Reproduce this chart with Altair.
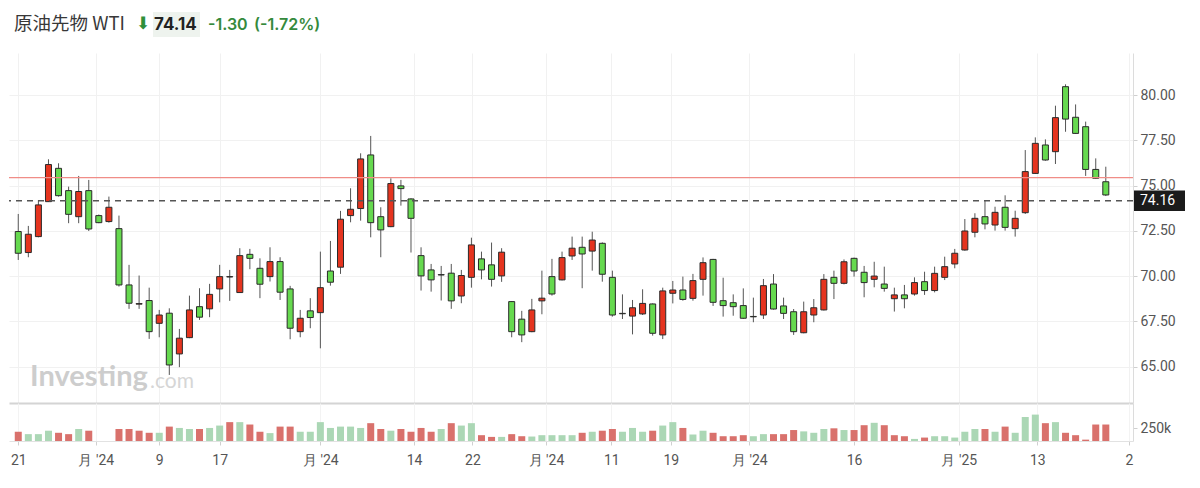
import json
import altair as alt
import pandas as pd

# ---------------- data ----------------
opens = [72.46, 71.30, 72.18, 74.11, 75.95, 74.72, 73.28, 74.72, 73.34, 73.01,
         72.62, 69.51, 68.45, 68.65, 67.39, 67.95, 65.70, 66.60, 68.31, 68.19,
         69.29, 69.95, 69.09, 71.20, 70.43, 69.97, 70.80, 69.29, 66.93, 68.08,
         67.98, 70.28, 70.49, 73.34, 73.73, 76.69, 73.28, 72.73, 74.98, 74.26,
         71.13, 70.34, 70.08, 70.16, 68.90, 69.93, 70.95, 70.62, 70.01, 68.59,
         67.62, 66.93, 68.63, 69.97, 69.79, 71.11, 71.59, 71.38, 71.81, 69.93,
         67.94, 67.79, 67.91, 68.46, 66.75, 69.05, 69.23, 68.77, 69.82, 70.92,
         68.64, 68.53, 68.37, 67.77, 67.85, 69.56, 68.35, 68.03, 66.87, 67.85,
         68.13, 69.93, 69.60, 70.98, 70.21, 69.82, 69.56, 68.75, 68.96, 69.01,
         69.69, 69.20, 69.93, 70.67, 71.44, 72.42, 73.28, 72.82, 73.80, 72.62,
         73.50, 75.67, 77.24, 76.87, 80.46, 78.77, 78.25, 75.89, 75.21]
highs = [73.43, 72.77, 74.20, 76.45, 76.23, 74.94, 75.53, 75.31, 73.40, 74.39,
         73.34, 70.62, 70.03, 69.36, 68.13, 68.22, 67.08, 68.92, 69.33, 69.57,
         70.62, 70.34, 71.54, 71.50, 70.98, 71.59, 71.04, 69.46, 68.13, 68.78,
         71.35, 71.94, 73.60, 74.85, 76.78, 77.74, 73.80, 75.40, 75.31, 74.30,
         71.59, 70.67, 70.56, 70.67, 70.34, 72.12, 71.35, 71.85, 71.54, 68.62,
         68.08, 68.74, 70.30, 70.95, 71.35, 72.18, 72.18, 72.45, 71.86, 70.30,
         68.99, 68.68, 69.27, 68.49, 69.36, 69.73, 69.97, 70.12, 71.03, 70.95,
         69.91, 68.99, 69.32, 68.81, 69.84, 70.11, 68.81, 68.18, 68.59, 68.73,
         70.11, 70.30, 70.92, 71.02, 70.56, 70.79, 70.52, 69.36, 69.51, 69.93,
         70.24, 70.52, 71.07, 71.50, 73.15, 73.47, 74.20, 73.83, 74.46, 73.61,
         76.96, 77.66, 77.55, 79.41, 80.59, 79.48, 78.53, 76.50, 76.04]
lows = [70.89, 71.04, 72.14, 74.11, 74.39, 72.92, 72.92, 72.49, 72.92, 72.95,
        69.42, 68.19, 68.19, 66.53, 66.62, 64.54, 64.97, 66.57, 67.58, 67.73,
        68.55, 68.63, 69.09, 70.38, 68.78, 69.70, 68.68, 66.51, 66.62, 67.12,
        66.01, 69.47, 70.12, 72.97, 73.06, 72.14, 71.04, 72.70, 73.89, 71.30,
        69.20, 69.14, 68.65, 68.19, 68.50, 69.36, 69.82, 69.42, 69.68, 66.62,
        66.35, 66.90, 67.89, 68.92, 69.76, 70.89, 69.33, 70.30, 69.69, 67.76,
        67.63, 66.78, 67.85, 66.71, 66.52, 68.49, 68.64, 68.64, 68.92, 68.35,
        67.76, 67.81, 67.63, 67.45, 67.63, 68.15, 67.63, 66.75, 66.84, 67.45,
        68.10, 68.73, 69.54, 69.97, 68.83, 69.38, 69.14, 68.04, 68.22, 68.92,
        68.96, 69.10, 69.78, 70.43, 71.40, 72.14, 72.58, 72.51, 72.51, 72.18,
        73.43, 75.64, 76.37, 76.19, 77.97, 77.85, 75.53, 75.36, 74.42]
closes = [71.26, 72.31, 73.93, 76.16, 74.44, 73.41, 74.67, 72.60, 72.95, 73.80,
          69.51, 68.50, 68.48, 66.93, 67.85, 65.09, 66.57, 68.13, 67.73, 68.99,
          69.97, 69.97, 71.13, 70.98, 69.55, 70.80, 69.11, 67.12, 67.67, 67.71,
          69.36, 69.66, 73.14, 73.69, 76.47, 72.95, 72.55, 75.11, 74.83, 73.19,
          70.01, 69.79, 70.06, 68.63, 70.03, 71.72, 70.34, 69.82, 71.32, 66.93,
          66.75, 68.13, 68.78, 69.01, 71.02, 71.54, 71.22, 71.99, 70.10, 67.85,
          67.92, 68.25, 68.49, 66.84, 69.18, 69.23, 68.71, 69.75, 70.74, 68.55,
          68.37, 68.31, 67.67, 67.75, 69.47, 68.18, 67.94, 66.93, 68.03, 68.25,
          69.82, 69.60, 70.79, 70.28, 69.64, 70.00, 69.32, 68.96, 68.75, 69.64,
          69.20, 70.15, 70.52, 71.26, 72.49, 73.19, 72.88, 73.52, 72.69, 73.19,
          75.77, 77.33, 76.41, 78.75, 78.67, 77.88, 75.89, 75.40, 74.48]
volumes_k = [178, 132, 132, 198, 158, 132, 231, 198, None, None,
             231, 231, 198, 158, 158, 277, 251, 231, 231, 251,
             297, 363, 363, 317, 178, 152, 277, 277, 178, 178,
             363, 251, 277, 277, 251, 343, 231, 198, 231, 178,
             251, 178, 231, 343, 297, 343, 112, 79, 79, 132,
             92, 86, 112, 112, 112, 112, 158, 178, 198, 231,
             178, 251, 178, 198, 297, 363, 251, 125, 198, 158,
             92, 92, 112, 92, 132, 132, 132, 211, 185, 158,
             231, 244, 211, 211, 304, 350, 304, 112, 92, 40,
             66, 92, 92, 66, 178, 231, 231, 178, 277, 158,
             462, 508, 343, 363, 158, 112, 26, 317, 317]
volume_dir = list("rgggrrgr--rrrrgrggrggrgrrgrrggggggg" "rrgrrrrgrggrrgrrgggggrg"
                  "rrgggrggrggrrrrggrrrgggrgrrgrrrgrgggggrgrgggrgrrrrr")

tick_pos = [1, 8.7, 15, 21, 31, 40.3, 46.1, 53.4, 59.9, 65.8, 73.6, 84, 94.4, 102.2, 111.3]
tick_labels = ["21", "月 '24", "9", "17", "月 '24", "14", "22", "月 '24", "11", "19",
               "月 '24", "16", "月 '25", "13", "2"]
price_ticks = [65, 67.5, 70, 72.5, 75, 77.5, 80]
last_price = 74.16
prev_close = 75.44

title_name = "原油先物 WTI"
title_price = "74.14"
title_change = "-1.30"
title_pct = "(-1.72%)"

# ---------------- table ----------------
n = len(opens)
df = pd.DataFrame({
    "i": list(range(1, n + 1)),
    "open": opens, "high": highs, "low": lows, "close": closes,
    "vol": volumes_k, "vdir": volume_dir[:n],
})
df["dir"] = ["up" if c >= o else "down" for o, c in zip(df["open"], df["close"])]

W = 1124
H_PRICE = 350
H_VOL = 38
X_DOMAIN = [0.08, 111.7]
Y_DOMAIN = [62.99, 82.32]

label_expr = f"{json.dumps(tick_labels, ensure_ascii=False)}[indexof({json.dumps(tick_pos)}, datum.value)]"
AX_FONT = "Roboto"

x_scale = alt.Scale(domain=X_DOMAIN, nice=False, zero=False, padding=0)

x_price = alt.X("i:Q", scale=x_scale,
                axis=alt.Axis(values=tick_pos, labels=False, ticks=False, title=None,
                              grid=True, gridColor="#f1f1f1", domain=True,
                              domainColor="#d4d4d4", domainWidth=2))
y_price = alt.Y("low:Q", scale=alt.Scale(domain=Y_DOMAIN, nice=False, zero=False),
                axis=alt.Axis(orient="right", values=price_ticks, format=".2f", title=None,
                              grid=True, gridColor="#f1f1f1", domainColor="#dcdcdc",
                              tickColor="#cfcfcf", tickSize=4, labelPadding=3,
                              labelFont=AX_FONT, labelFontSize=14, labelColor="#555"))

base = alt.Chart(df)
wicks = base.mark_rule(color="#555", strokeWidth=1).encode(x=x_price, y=y_price, y2="high:Q")
bodies = base.mark_bar(size=6, stroke="#2a2a2a", strokeWidth=1).encode(
    x=alt.X("i:Q", scale=x_scale), y="open:Q", y2="close:Q",
    color=alt.Color("dir:N", scale=alt.Scale(domain=["up", "down"], range=["#e5341f", "#66d94f"]),
                    legend=None))

ref_df = pd.DataFrame({"v": [last_price], "p": [prev_close]})
ref = alt.Chart(ref_df)
prev_line = ref.mark_rule(color="#f08d87", strokeWidth=1.3).encode(y="p:Q")
last_line = ref.mark_rule(color="#555", strokeWidth=1.3, strokeDash=[6, 5]).encode(y="v:Q")
tag_box = ref.mark_rect(color="#1b1b1b").encode(
    x=alt.value(W + 1), x2=alt.value(W + 52),
    y=alt.Y("lo:Q"), y2="hi:Q").transform_calculate(lo="datum.v - 0.56", hi="datum.v + 0.56")
tag_text = ref.mark_text(color="white", font=AX_FONT, fontSize=14, align="left", baseline="middle").encode(
    x=alt.value(W + 7), y="v:Q", text=alt.Text("v:Q", format=".2f"))

one = alt.Chart(pd.DataFrame({"a": [0]}))
hdr_bg = one.mark_rect(color="#eef3ee").encode(x=alt.value(144), x2=alt.value(191),
                                                y=alt.value(-41), y2=alt.value(-16))
hdr_name = one.mark_text(align="left", baseline="middle", font="Noto Sans CJK JP", fontSize=18.5,
                         color="#383838").encode(x=alt.value(5), y=alt.value(-29), text=alt.value(title_name))
hdr_arrow = one.mark_text(align="left", baseline="middle", font="DejaVu Sans", fontSize=17,
                          color="#2f8f3b").encode(x=alt.value(127), y=alt.value(-29), text=alt.value("⬇"))
hdr_price = one.mark_text(align="left", baseline="middle", font="Inter", fontSize=17, fontWeight="bold",
                          color="#222").encode(x=alt.value(145), y=alt.value(-28), text=alt.value(title_price))
hdr_chg = one.mark_text(align="left", baseline="middle", font="Inter", fontSize=16, fontWeight=600,
                        color="#358a3c").encode(x=alt.value(199), y=alt.value(-28), text=alt.value(title_change))
hdr_pct = one.mark_text(align="left", baseline="middle", font="Inter", fontSize=16, fontWeight=600,
                        color="#358a3c").encode(x=alt.value(245), y=alt.value(-28), text=alt.value(title_pct))
wm1 = one.mark_text(align="left", baseline="middle", font="Lato", fontSize=29, fontWeight="bold",
                    color="#cdcdcd").encode(x=alt.value(21), y=alt.value(324), text=alt.value("Investing"))
wm2 = one.mark_text(align="left", baseline="middle", font="Lato", fontSize=21,
                    color="#d6d6d6").encode(x=alt.value(141), y=alt.value(329), text=alt.value(".com"))

price = alt.layer(wm1, wm2, wicks, bodies, prev_line, last_line, tag_box, tag_text,
                  hdr_bg, hdr_name, hdr_arrow, hdr_price, hdr_chg, hdr_pct).properties(
    width=W, height=H_PRICE)

vol = alt.Chart(df).mark_bar(size=7).encode(
    x=alt.X("i:Q", scale=x_scale,
            axis=alt.Axis(values=tick_pos, labelExpr=label_expr, title=None, grid=True,
                          gridColor="#f3f3f3", domainColor="#e2e2e2", tickColor="#d0d0d0",
                          tickSize=4, labelFlush=False, labelOverlap=False, labelPadding=8,
                          labelFont=AX_FONT, labelFontSize=14, labelColor="#555")),
    y=alt.Y("vol:Q", scale=alt.Scale(domain=[0, 731], nice=False),
            axis=alt.Axis(orient="right", values=[250], labelExpr="'250k'", title=None, grid=False,
                          domainColor="#dcdcdc", tickColor="#cfcfcf", tickSize=4, labelPadding=3,
                          labelFont=AX_FONT, labelFontSize=14, labelColor="#555")),
    color=alt.Color("vdir:N", scale=alt.Scale(domain=["g", "r"], range=["#abd7b5", "#d9716c"]),
                    legend=None),
).properties(width=W, height=H_VOL)

chart = alt.vconcat(price, vol, spacing=0).resolve_scale(color="independent").properties(
    padding={"top": 4, "left": 0, "right": 5, "bottom": 5}, background="white"
).configure_view(stroke="transparent", strokeWidth=0)

chart.save("out.html", embed_options={"renderer": "svg", "actions": False})
